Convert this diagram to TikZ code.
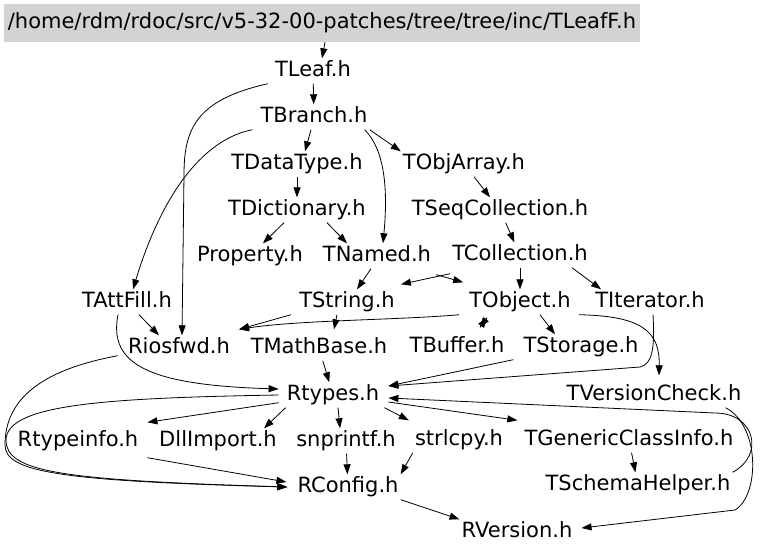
\documentclass[tikz,border=0pt]{standalone}
\usepackage{fontspec}
\setmainfont{DejaVu Sans}
\usepackage{xcolor}
\usepackage{tikz}
\usetikzlibrary{arrows.meta,positioning,calc}
\definecolor{incgray}{HTML}{D3D3D3}

\tikzset{
  incfile/.style={inner sep=2pt,text height=16pt,text depth=5pt,
                  font=\fontsize{21}{25}\selectfont},
  incroot/.style={incfile,fill=incgray,minimum width=636pt,minimum height=38pt},
  incedge/.style={-{Triangle[length=10pt,width=7pt]},line width=0.8pt}
}

\begin{document}
\begin{tikzpicture}[x=1pt,y=-1pt]

  \useasboundingbox (0,0) rectangle (768,555);

  % file nodes
  \node[incroot] (root) at (322,23) {/home/rdm/rdoc/src/v5-32-00-patches/tree/tree/inc/TLeafF.h};
  \node[incfile] (tleaf)     at (313,71)  {TLeaf.h};
  \node[incfile] (tbranch)   at (314,117) {TBranch.h};
  \node[incfile] (tdatatype) at (297,164) {TDataType.h};
  \node[incfile] (tobjarray) at (464,164) {TObjArray.h};
  \node[incfile] (tdict)     at (297,210) {TDictionary.h};
  \node[incfile] (tseqcoll)  at (500,210) {TSeqCollection.h};
  \node[incfile] (property)  at (250,256) {Property.h};
  \node[incfile] (tnamed)    at (377,256) {TNamed.h};
  \node[incfile] (tcoll)     at (520,255) {TCollection.h};
  \node[incfile] (tattfill)  at (127,302) {TAttFill.h};
  \node[incfile] (tstring)   at (347,302) {TString.h};
  \node[incfile] (tobject)   at (520,302) {TObject.h};
  \node[incfile] (titer)     at (650,302) {TIterator.h};
  \node[incfile] (riosfwd)   at (179,348) {Riosfwd.h};
  \node[incfile] (tmathbase) at (319,348) {TMathBase.h};
  \node[incfile] (tbuffer)   at (457,347) {TBuffer.h};
  \node[incfile] (tstorage)  at (581,347) {TStorage.h};
  \node[incfile] (rtypes)    at (333,395) {Rtypes.h};
  \node[incfile] (tvercheck) at (654,395) {TVersionCheck.h};
  \node[incfile] (rtypeinfo) at (78,441)  {Rtypeinfo.h};
  \node[incfile] (dllimport) at (218,441) {DllImport.h};
  \node[incfile] (snprintf)  at (346,441) {snprintf.h};
  \node[incfile] (strlcpy)   at (459,440) {strlcpy.h};
  \node[incfile] (tgeneric)  at (629,440) {TGenericClassInfo.h};
  \node[incfile] (rconfig)   at (348,487) {RConfig.h};
  \node[incfile] (tschema)   at (638,485) {TSchemaHelper.h};
  \node[incfile] (rversion)  at (517,532) {RVersion.h};

  % include edges
  \draw[incedge] ([xshift=3pt]root.south) -- ([xshift=9pt]tleaf.north);
  \draw[incedge] (tleaf) -- (tbranch);
  \draw[incedge] ([xshift=-5pt]tleaf.south west) .. controls (195,100) and (184,130)
                 .. (184,175) -- ([xshift=3pt]riosfwd.north);
  \draw[incedge] ([xshift=-3pt]tbranch.south) -- ([xshift=8pt]tdatatype.north);
  \draw[incedge] (tbranch.south east) -- (tobjarray.north west);
  \draw[incedge] ([xshift=-5pt]tbranch.south east) .. controls (385,150) and (388,190)
                 .. ([xshift=6pt]tnamed.north);
  \draw[incedge] ([xshift=-6pt]tbranch.south west) .. controls (200,140) and (160,200)
                 .. ([xshift=6pt]tattfill.north);
  \draw[incedge] (tdatatype) -- (tdict);
  \draw[incedge] (tobjarray) -- (tseqcoll);
  \draw[incedge] (tseqcoll) -- (tcoll);
  \draw[incedge] (tdict) -- (property);
  \draw[incedge] ([xshift=30pt]tdict.south) -- ([xshift=-30pt]tnamed.north);
  \draw[incedge] ([xshift=-6pt]tnamed.south) -- ([xshift=10pt]tstring.north);
  \draw[incedge] (tcoll) -- (tobject);
  \draw[incedge] ([xshift=-18pt]tcoll.south east) -- ([xshift=8pt]titer.north west);
  \draw[incedge] ([yshift=-6pt]tcoll.south west) -- ([xshift=4pt,yshift=5pt]tstring.north east);
  \draw[incedge] ([xshift=3pt,yshift=-6pt]tnamed.south east) -- ([xshift=-4pt,yshift=7pt]tobject.north west);
  \draw[incedge] ([xshift=12pt]tattfill.south) -- ([xshift=-20pt]riosfwd.north);
  \draw[incedge] ([xshift=-9pt]tattfill.south) .. controls (108,365) and (150,385)
                 .. ([xshift=-6pt,yshift=6pt]rtypes.west);
  \draw[incedge] ([xshift=-6pt]tstring.south west) -- ([xshift=7pt,yshift=6pt]riosfwd.north east);
  \draw[incedge] ([xshift=-8pt]tobject.south west) .. controls (400,320) and (300,320)
                 .. ([xshift=7pt,yshift=6pt]riosfwd.north east);
  \draw[incedge] ([xshift=-10pt]tstring.south) -- ([xshift=15pt,yshift=6pt]tmathbase.north);
  \draw[incedge] ([xshift=-33pt,yshift=-3pt]tobject.south) -- ([xshift=23pt,yshift=7pt]tbuffer.north);
  \draw[incedge] ([xshift=23pt,yshift=7pt]tbuffer.north) -- ([xshift=-33pt,yshift=-3pt]tobject.south);
  \draw[incedge] ([xshift=20pt]tobject.south) -- ([xshift=-26pt]tstorage.north);
  \draw[incedge] ([xshift=6pt]tobject.south east) .. controls (640,316) and (660,330)
                 .. ([xshift=5pt,yshift=7pt]tvercheck.north);
  \draw[incedge] ([xshift=3pt]titer.south) .. controls (655,350) and (652,364)
                 .. (640,367) -- ([xshift=7pt,yshift=9pt]rtypes.east);
  \draw[incedge] ([xshift=-8pt]tstorage.south west) -- ([xshift=7pt,yshift=9pt]rtypes.east);
  \draw[incedge] (tmathbase) -- (rtypes);
  \draw[incedge] (tschema.north east) .. controls (765,455) and (755,413)
                 .. (715,413) -- ([xshift=7pt,yshift=-3pt]rtypes.east);
  \draw[incedge] ([xshift=-18pt]tvercheck.south east) .. controls (760,425) and (760,495)
                 .. (735,510) -- ([xshift=7pt,yshift=4pt]rversion.east);
  \draw[incedge] ([xshift=-6pt,yshift=5pt]rtypes.south west) -- ([xshift=7pt,yshift=6pt]rtypeinfo.north east);
  \draw[incedge] ([xshift=1pt]rtypes.south west) -- ([xshift=-15pt]dllimport.north east);
  \draw[incedge] ([xshift=5pt]rtypes.south) -- ([xshift=-6pt]snprintf.north);
  \draw[incedge] ([xshift=3pt]rtypes.south east) -- ([xshift=-4pt,yshift=7pt]strlcpy.north west);
  \draw[incedge] ([xshift=7pt,yshift=-7pt]rtypes.east) -- ([xshift=-5pt,yshift=7pt]tgeneric.north west);
  \draw[incedge] ([xshift=-6pt]rtypes.west) .. controls (100,398) and (7,405)
                 .. (6,440) .. controls (6,472) and (60,480) .. ([xshift=-8pt]rconfig.west);
  \draw[incedge] ([xshift=-8pt,yshift=5pt]riosfwd.south west) .. controls (40,370) and (5,400)
                 .. (5,445) .. controls (5,472) and (60,481) .. ([xshift=-8pt]rconfig.west);
  \draw[incedge] ([xshift=7pt,yshift=-4pt]rtypeinfo.south east) -- ([xshift=-9pt,yshift=5pt]rconfig.west);
  \draw[incedge] (snprintf) -- (rconfig);
  \draw[incedge] (strlcpy.south west) -- (rconfig.north east);
  \draw[incedge] (rconfig.south east) -- (rversion.north west);
  \draw[incedge] (tgeneric) -- (tschema);

\end{tikzpicture}
\end{document}
